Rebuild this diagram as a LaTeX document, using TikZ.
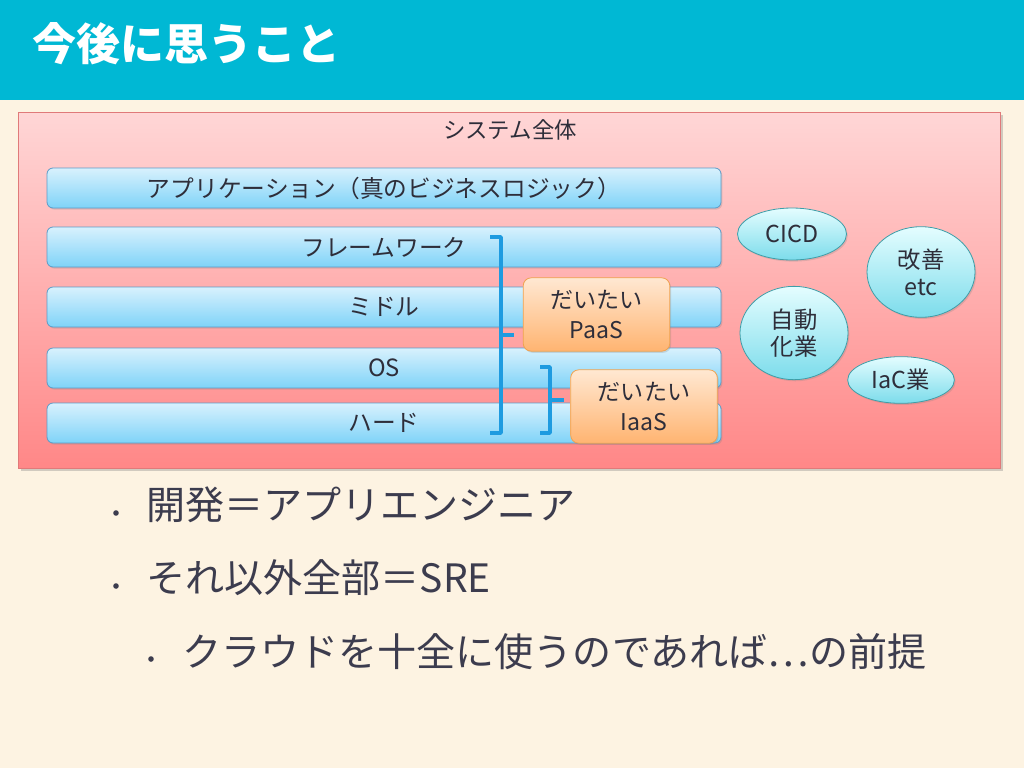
\documentclass[tikz,border=0pt]{standalone}
\usepackage{fontspec}
\setmainfont{Noto Sans CJK JP}
\usetikzlibrary{shapes.geometric,shadows}
\definecolor{bgcream}{HTML}{FDF3E2}
\definecolor{headcyan}{HTML}{00B8D4}
\definecolor{pinktop}{HTML}{FFD6D6}
\definecolor{pinkbot}{HTML}{FF8787}
\definecolor{pinkedge}{HTML}{E07A7A}
\definecolor{bartop}{HTML}{D8F1FD}
\definecolor{barbot}{HTML}{7FD3F8}
\definecolor{baredge}{HTML}{5C9CC8}
\definecolor{orgtop}{HTML}{FFE8D2}
\definecolor{orgbot}{HTML}{FFB471}
\definecolor{orgedge}{HTML}{EFA24F}
\definecolor{cyantop}{HTML}{E4FDFF}
\definecolor{cyanbot}{HTML}{7CDCEB}
\definecolor{cyanedge}{HTML}{3E9EA8}
\definecolor{brblue}{HTML}{1E9BE0}
\definecolor{txt}{HTML}{2E2E3A}
\definecolor{bullettxt}{HTML}{3C3C4E}
\tikzset{
  panel/.style={rectangle, draw=pinkedge, line width=0.6pt, top color=pinktop, bottom color=pinkbot,
    drop shadow={opacity=0.35, shadow xshift=2pt, shadow yshift=-2pt}},
  layer/.style={rectangle, rounded corners=4.5pt, draw=baredge, line width=0.6pt,
    top color=bartop, bottom color=barbot, minimum width=505.5pt, minimum height=30pt,
    text=txt, font=\fontsize{17.8}{20}\selectfont, inner sep=0pt,
    drop shadow={opacity=0.25, shadow xshift=1pt, shadow yshift=-1.2pt}},
  aas/.style={rectangle, rounded corners=6pt, draw=orgedge, line width=0.6pt,
    top color=orgtop, bottom color=orgbot, minimum width=110pt, minimum height=55pt,
    text=txt, align=center, font=\fontsize{17.3}{22.5}\selectfont, inner sep=0pt,
    drop shadow={opacity=0.25, shadow xshift=1pt, shadow yshift=-1.2pt}},
  blob/.style={ellipse, draw=cyanedge, line width=0.6pt, top color=cyantop, bottom color=cyanbot,
    text=txt, align=center, font=\fontsize{17.5}{20.5}\selectfont, inner sep=0pt,
    drop shadow={opacity=0.25, shadow xshift=1pt, shadow yshift=-1.2pt}},
  brace/.style={draw=brblue, line width=2.8pt, line join=round},
  bul/.style={anchor=west, text=bullettxt, font=\fontsize{29.3}{34}\selectfont, inner sep=0pt},
  dot/.style={circle, fill=bullettxt, minimum size=4.2pt, inner sep=0pt},
}
\begin{document}
\begin{tikzpicture}[x=0.75pt,y=-0.75pt]
\useasboundingbox (0,0) rectangle (1024,768);
\fill[bgcream] (0,0) rectangle (1024,768);
\fill[headcyan] (0,0) rectangle (1024,100);
\node[anchor=west, text=white, font=\bfseries\fontsize{33}{36}\selectfont, inner sep=0pt] (title) at (32,44) {今後に思うこと};

% system panel
\node[panel, anchor=north west, minimum width=736.5pt, minimum height=267pt, inner sep=0pt] (sys) at (18,112) {};
\node[text=txt, font=\fontsize{16.8}{20}\selectfont, inner sep=0pt] (syslabel) at (510,130) {システム全体};

% layers
\node[layer] (app) at (384,188) {アプリケーション（真のビジネスロジック）};
\node[layer] (fw)  at (384,247) {フレームワーク};
\node[layer] (mid) at (384,307) {ミドル};
\node[layer] (os)  at (384,368) {OS};
\node[layer] (hw)  at (384,423) {ハード};

% brackets
\coordinate (b1a) at (490,237);
\coordinate (b1b) at (501,237);
\coordinate (b1c) at (501,433);
\coordinate (b1d) at (490,433);
\coordinate (b1m) at (501,335);
\coordinate (b1t) at (514,335);
\draw[brace] (b1a) -- (b1b) -- (b1c) -- (b1d);
\draw[brace] (b1m) -- (b1t);
\coordinate (b2a) at (540,367);
\coordinate (b2b) at (550,367);
\coordinate (b2c) at (550,433);
\coordinate (b2d) at (540,433);
\coordinate (b2m) at (550,400);
\coordinate (b2t) at (564,400);
\draw[brace] (b2a) -- (b2b) -- (b2c) -- (b2d);
\draw[brace] (b2m) -- (b2t);

% PaaS / IaaS
\node[aas] (paas) at (596.5,314.5) {だいたい\\PaaS};
\node[aas] (iaas) at (644,406.5) {だいたい\\IaaS};

% ellipses
\node[blob, minimum width=81.75pt, minimum height=39pt] (cicd) at (792,234) {CICD};
\node[blob, minimum width=81pt, minimum height=68pt] (kaizen) at (921,272) {改善\\etc};
\node[blob, minimum width=81pt, minimum height=70pt] (auto) at (794,333) {自動\\化業};
\node[blob, minimum width=80pt, minimum height=35pt] (iac) at (901,380) {IaC業};

% bullets
\node[dot] (d1) at (116,513) {};
\node[bul] (l1) at (146,505) {開発＝アプリエンジニア};
\node[dot] (d2) at (116,586) {};
\node[bul] (l2) at (146,578) {それ以外全部＝SRE};
\node[dot] (d3) at (151,659) {};
\node[bul] (l3) at (182,652) {クラウドを十全に使うのであれば…の前提};
\end{tikzpicture}
\end{document}
